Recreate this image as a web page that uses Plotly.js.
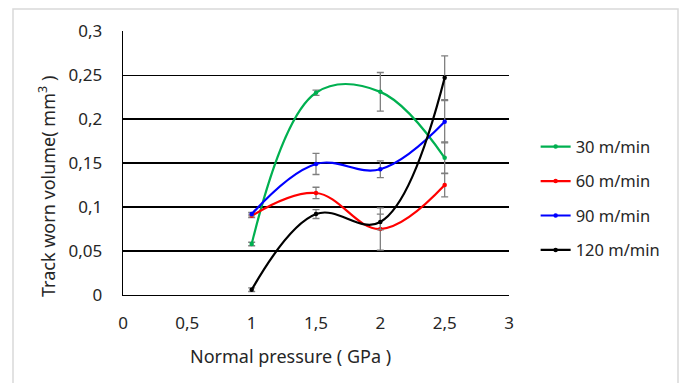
<!DOCTYPE html>
<html>
<head>
<meta charset="utf-8">
<script src="https://cdn.plot.ly/plotly-3.0.1.min.js"></script>
<style>
  html, body { margin: 0; padding: 0; background: #fff; }
  #chart { width: 686px; height: 383px; }
</style>
</head>
<body>
<div id="chart"></div>
<script>
// Normal pressure (GPa)
const pressure = [1, 1.5, 2, 2.5];

// Track worn volume (mm^3) per sliding speed
const series = ['30 m/min', '60 m/min', '90 m/min', '120 m/min'];
const vol30  = [0.058, 0.230, 0.231, 0.156];
const vol60  = [0.090, 0.116, 0.075, 0.125];
const vol90  = [0.092, 0.149, 0.143, 0.197];
const vol120 = [0.006, 0.092, 0.083, 0.247];

// Standard deviations (error bars)
const err30  = [0.002, 0.003, 0.022, 0.018];
const err60  = [0.002, 0.0065, 0.024, 0.0135];
const err90  = [0.002, 0.012, 0.0095, 0.024];
const err120 = [0.002, 0.005, 0.009, 0.025];

const xTicks = [0, 0.5, 1, 1.5, 2, 2.5, 3];
const yTicks = [0, 0.05, 0.1, 0.15, 0.2, 0.25, 0.3];

const colors = ['#00b050', '#ff0000', '#0000ff', '#000000'];
const values = [vol30, vol60, vol90, vol120];
const errors = [err30, err60, err90, err120];

const traces = series.map((name, i) => ({
  x: pressure,
  y: values[i],
  name: name,
  legendgroup: 'g' + i,
  type: 'scatter',
  mode: 'lines+markers',
  line: { color: colors[i], width: 2.2, shape: 'spline', smoothing: 1.1 },
  marker: { color: colors[i], size: 4.5 },
  error_y: { type: 'data', array: errors[i], visible: true, color: '#7f7f7f', thickness: 1.3, width: 3.5 }
}));

const family = 'Noto Sans, Open Sans, sans-serif';
const font = { family: family, size: 17, color: '#262626' };
const titleFont = { family: family, size: 18, color: '#262626' };
const legendFont = { family: family, size: 16.5, color: '#262626' };

const layout = {
  width: 686,
  height: 383,
  margin: { l: 123, r: 177, t: 31, b: 88 },
  paper_bgcolor: '#ffffff',
  plot_bgcolor: '#ffffff',
  separators: ', ',
  font: font,
  showlegend: true,
  legend: {
    x: 1.069, xanchor: 'left', y: 0.366, yanchor: 'middle',
    font: legendFont, tracegroupgap: 10, traceorder: 'grouped',
    bgcolor: 'rgba(0,0,0,0)'
  },
  xaxis: {
    range: [0, 3], tickvals: xTicks,
    showgrid: false, zeroline: false,
    showline: true, linecolor: '#000', linewidth: 1.3,
    ticks: '', ticklabelstandoff: 12, tickfont: font
  },
  yaxis: {
    range: [0, 0.3002], tickvals: yTicks,
    showgrid: true, gridcolor: '#000', gridwidth: 1.3,
    zeroline: false,
    showline: true, linecolor: '#000', linewidth: 1.3,
    ticks: '', ticklabelstandoff: 16, tickfont: font
  },
  annotations: [
    {
      text: 'Normal pressure ( GPa )', xref: 'paper', yref: 'paper',
      x: (290 - 123) / 386, y: -(356 - 295) / 264, xanchor: 'center', yanchor: 'middle',
      showarrow: false, font: titleFont
    },
    {
      text: 'Track worn volume( mm<sup>3</sup> )', xref: 'paper', yref: 'paper',
      x: -(123 - 47) / 386, y: (295 - 187) / 264, xanchor: 'center', yanchor: 'middle',
      textangle: -90, showarrow: false, font: titleFont
    }
  ],
  shapes: [
    {
      type: 'rect', xref: 'paper', yref: 'paper', layer: 'below',
      x0: (13 - 123) / 386, x1: (678 - 123) / 386,
      y0: -(395 - 295) / 264, y1: (295 - 9) / 264,
      line: { color: '#d9d9d9', width: 1.5 }, fillcolor: 'rgba(0,0,0,0)'
    }
  ]
};

Plotly.newPlot('chart', traces, layout, { displayModeBar: false, staticPlot: true });
</script>
</body>
</html>
